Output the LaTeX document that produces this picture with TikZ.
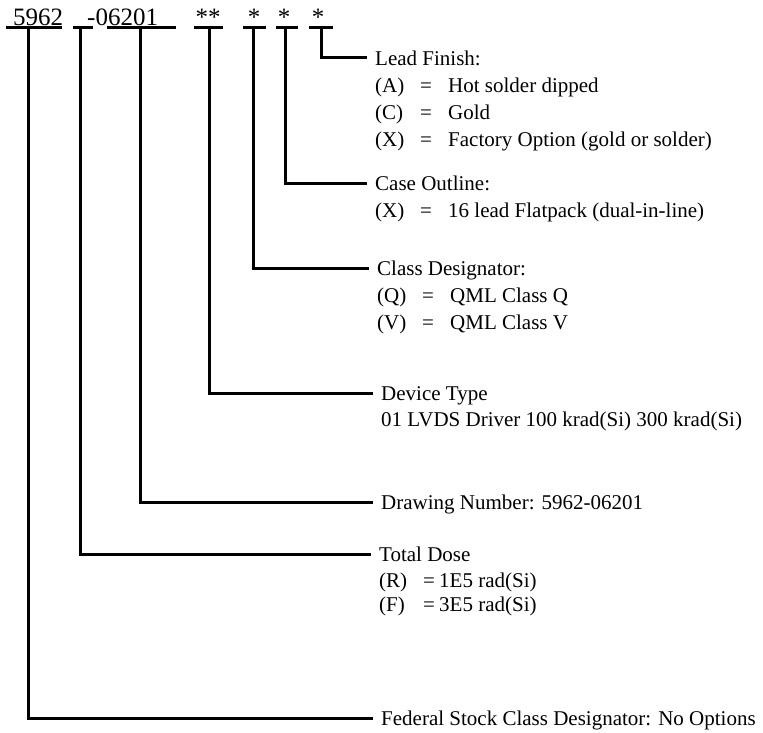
\documentclass[tikz,border=0pt]{standalone}
\usepackage{fontspec}
\setmainfont{Liberation Serif}
\usetikzlibrary{positioning}

\begin{document}
\begin{tikzpicture}[x=1pt,y=-1pt,
		wire/.style={line width=3pt},
		code/.style={inner sep=0pt,anchor=base,font=\fontsize{25}{30}\selectfont},
		head/.style={anchor=west,inner xsep=8pt,inner ysep=0pt,text height=15pt,text depth=0pt,font=\fontsize{21}{26}\selectfont},
		row/.style={anchor=base west,inner xsep=8pt,inner ysep=0pt,font=\fontsize{21}{26}\selectfont}]
		\useasboundingbox (0,0) rectangle (763,733);
		% part number
		\node[code,anchor=base west] (pn) at (13,26) {5962};
		\node[code,anchor=base west] (dwg) at (87,26) {-06201};
		\node[code] (dev) at (208,26) {**};
		\node[code] (cls) at (254,26) {*};
		\node[code] (cas) at (284,26) {*};
		\node[code] (fin) at (318,26) {*};
		%
		\draw[wire] (6,28) -- (62,28);
		\draw[wire] (73,28) -- (93,28);
		\draw[wire] (107,28) -- (176,28);
		\draw[wire] (194,28) -- (223,28);
		\draw[wire] (243,28) -- (266,28);
		\draw[wire] (276,28) -- (298,28);
		\draw[wire] (309,28) -- (333,28);
		%
		\coordinate (f1) at (28,28);
		\coordinate (f2) at (80,28);
		\coordinate (f3) at (140,28);
		\coordinate (f4) at (209,28);
		\coordinate (f5) at (253,28);
		\coordinate (f6) at (285,28);
		\coordinate (f7) at (321,28);
		% fields
		\node[head] (lf) at (367,58) {Lead Finish:};
		\node[below=27pt of lf.base west,row] (lfa) {\makebox[45pt][l]{(A)}\makebox[28pt][l]{=}Hot solder dipped};
		\node[below=27pt of lfa.base west,row] (lfc) {\makebox[45pt][l]{(C)}\makebox[28pt][l]{=}Gold};
		\node[below=27pt of lfc.base west,row] (lfx) {\makebox[45pt][l]{(X)}\makebox[28pt][l]{=}Factory Option (gold or solder)};
		%
		\node[head] (co) at (367,183) {Case Outline:};
		\node[below=27pt of co.base west,row] (cox) {\makebox[45pt][l]{(X)}\makebox[28pt][l]{=}16 lead Flatpack (dual-in-line)};
		%
		\node[head] (cd) at (369,268) {Class Designator:};
		\node[below=27pt of cd.base west,row] (cdq) {\makebox[45pt][l]{(Q)}\makebox[28pt][l]{=}QML Class Q};
		\node[below=27pt of cdq.base west,row] (cdv) {\makebox[45pt][l]{(V)}\makebox[28pt][l]{=}QML Class V};
		%
		\node[head] (dt) at (373,393) {Device Type};
		\node[below=25.5pt of dt.base west,row] (dt1) {01 LVDS Driver 100 krad(Si) 300 krad(Si)};
		%
		\node[head] (dn) at (373,502) {Drawing Number: 5962-06201};
		%
		\node[head] (td) at (371,554) {Total Dose};
		\node[below=26pt of td.base west,row] (tdr) {\makebox[44pt][l]{(R)}\makebox[16pt][l]{=}1E5 rad(Si)};
		\node[below=24pt of tdr.base west,row] (tdf) {\makebox[44pt][l]{(F)}\makebox[16pt][l]{=}3E5 rad(Si)};
		%
		\node[head] (fs) at (373,718) {Federal Stock Class Designator: No Options};
		%
		\draw[wire] (f7) |- (lf.west);
		\draw[wire] (f6) |- (co.west);
		\draw[wire] (f5) |- (cd.west);
		\draw[wire] (f4) |- (dt.west);
		\draw[wire] (f3) |- (dn.west);
		\draw[wire] (f2) |- (td.west);
		\draw[wire] (f1) |- (fs.west);
\end{tikzpicture}
\end{document}
